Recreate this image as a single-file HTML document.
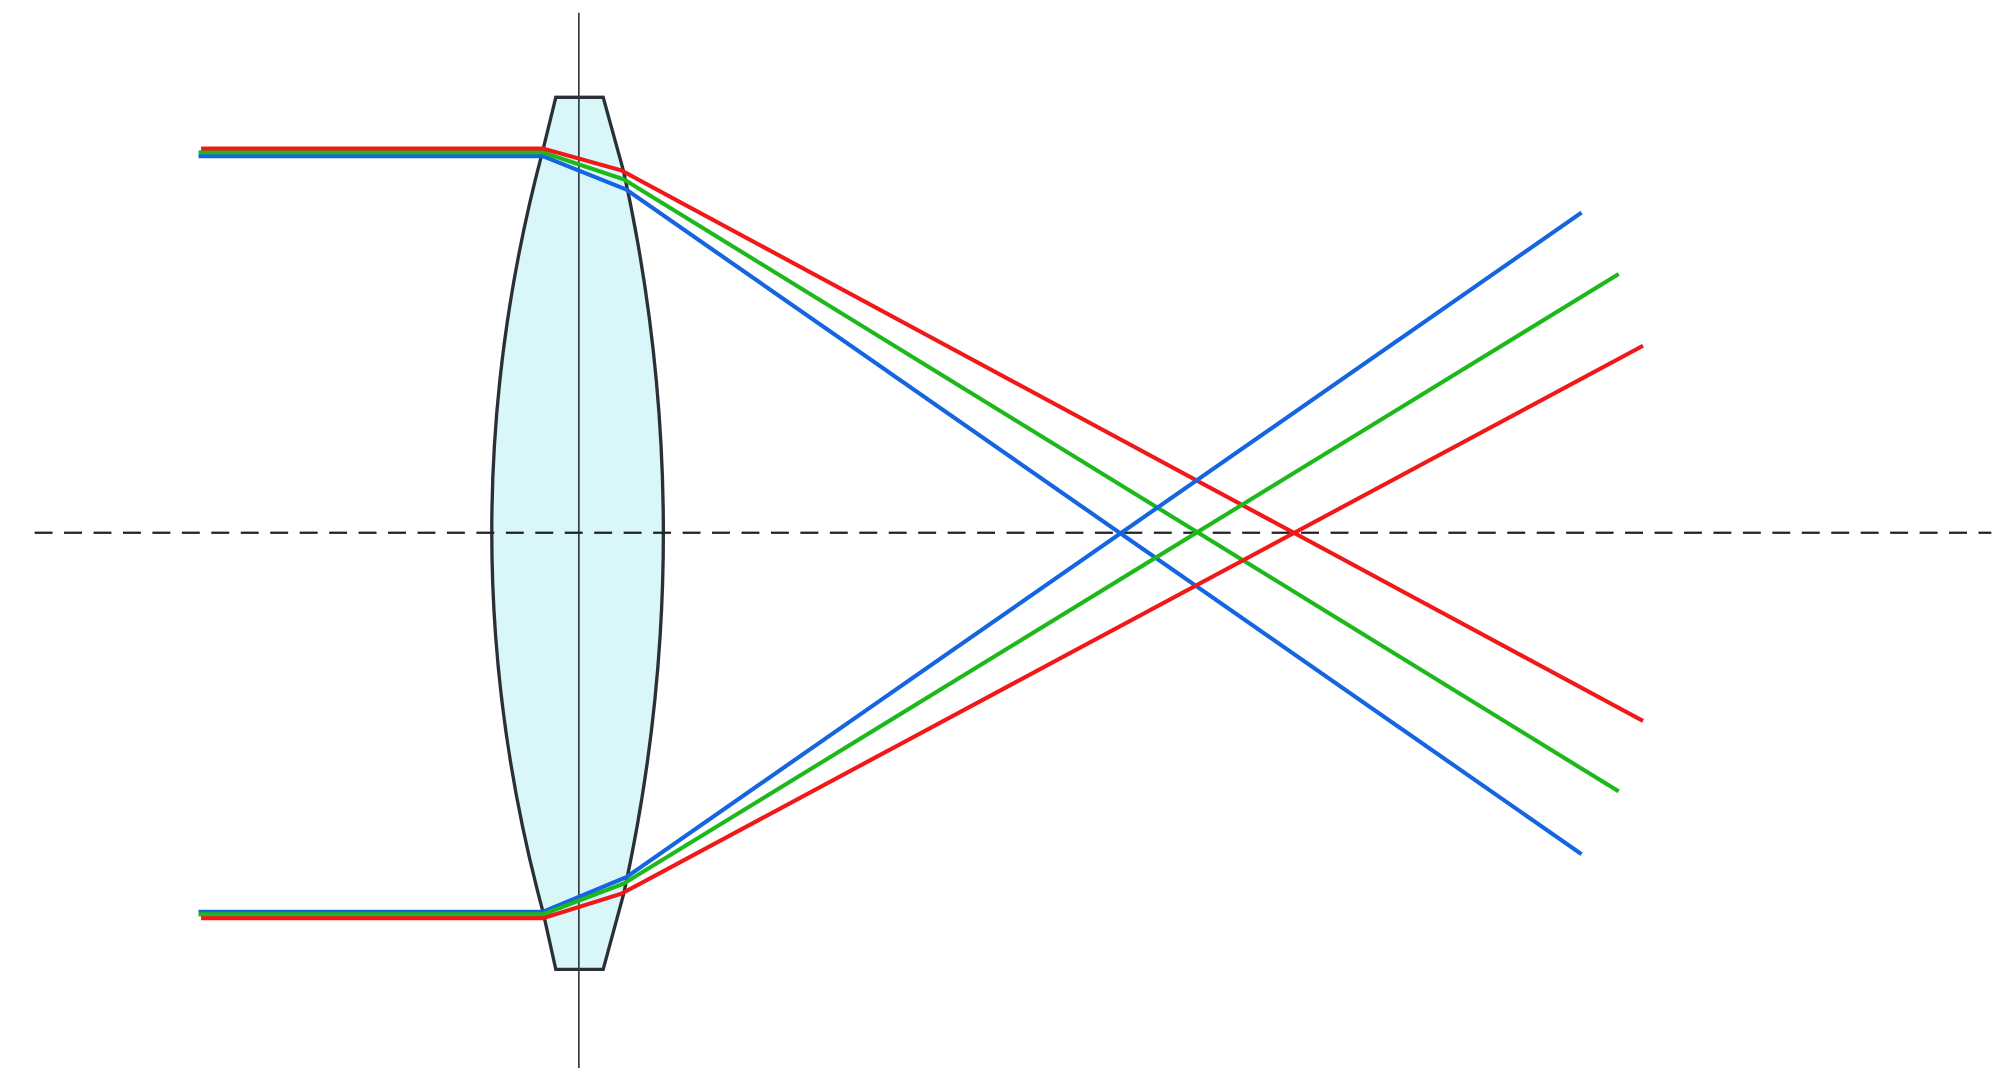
<!DOCTYPE html>
<html><head><meta charset="utf-8"><style>
html,body{margin:0;padding:0;background:#fff;}
svg{display:block;}
</style></head><body>
<svg width="2008" height="1068" viewBox="0 0 1568 834" xmlns="http://www.w3.org/2000/svg">
<rect width="1568" height="834" fill="#fff"/>
<path d="M434,76 L471,76 L487,134 Q549,416 487,698 L471,757 L434,757 L424,712 Q344,416 424,117 Z" fill="#d9f6f8" stroke="#2a3035" stroke-width="2.6" stroke-linejoin="miter"/>
<line x1="452" y1="10" x2="452" y2="834" stroke="#2f3a40" stroke-width="1.3"/>
<line x1="27" y1="416" x2="1555" y2="416" stroke="#222" stroke-width="1.8" stroke-dasharray="14,9"/>
<g fill="none" stroke-width="3.2" stroke-linejoin="round">
<polyline points="155,122 424,122 489,148 1235,667" stroke="#1565e0"/>
<polyline points="155,119 424,119 487,140 1264,618" stroke="#1db81a"/>
<polyline points="157,116 424,116 485,133 1283,563" stroke="#f01818"/>
<polyline points="155,712 424,712 489,685 1235,166" stroke="#1565e0"/>
<polyline points="155,714 424,714 487,690 1264,214" stroke="#1db81a"/>
<polyline points="157,717 424,717 485,698 1283,270" stroke="#f01818"/>
</g>
</svg>
</body></html>
